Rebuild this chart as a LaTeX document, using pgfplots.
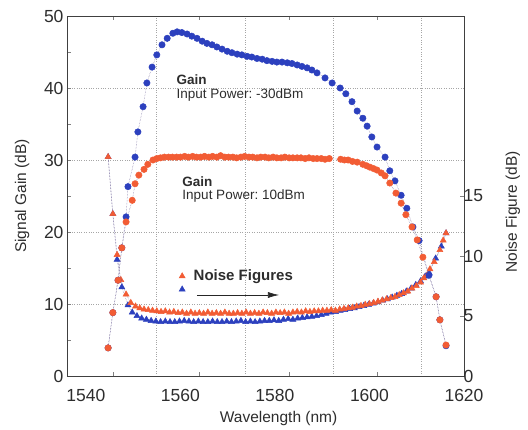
\documentclass[border=0pt]{standalone}
\usepackage{fontspec}
\setmainfont{Liberation Sans}
\usepackage{pgfplots}
\usepackage{pgfplotstable}
\pgfplotsset{compat=1.18}
\usetikzlibrary{arrows.meta}

\definecolor{gred}{RGB}{242,92,52}
\definecolor{gblue}{RGB}{44,64,190}
\definecolor{joinc}{RGB}{130,120,165}
\definecolor{txt}{RGB}{45,45,45}

\pgfplotsset{
  mlegend/.style={legend image code/.code={\draw[##1, draw=none] plot coordinates {(0.1cm,0cm)};}},
}

% gain, input -30 dBm
\pgfplotstableread{
wl g
1544.7 3.9
1545.7 8.8
1546.8 13.3
1547.6 17.8
1548.5 22.1
1548.9 26.3
1550.4 30.4
1551.0 33.9
1552.1 37.4
1552.9 40.7
1554.0 42.9
1555.0 44.6
1556.1 46.0
1557.2 46.9
1558.4 47.6
1559.3 47.8
1560.3 47.7
1561.4 47.5
1562.4 47.2
1563.5 46.9
1564.6 46.5
1565.6 46.2
1566.7 46.0
1567.7 45.7
1568.8 45.4
1569.9 45.1
1570.9 44.9
1572.0 44.7
1573.0 44.6
1574.1 44.4
1575.1 44.3
1576.2 44.1
1577.3 44.0
1578.3 43.8
1579.4 43.7
1580.4 43.6
1581.5 43.6
1582.6 43.5
1583.6 43.4
1584.7 43.2
1585.7 43.0
1586.8 42.8
1587.8 42.5
1588.9 42.1
1590.6 41.4
1592.1 40.7
1593.8 40.0
1595.0 39.2
1596.3 38.1
1597.4 36.8
1598.6 35.8
1599.5 34.7
1600.5 33.2
1601.6 31.8
1603.3 30.4
1604.3 28.5
1605.4 27.1
1606.7 25.1
1607.9 23.3
1609.2 20.7
1610.5 18.8
1612.6 14.0
1614.1 11.0
1614.9 7.8
1616.2 4.2
}\gainlow

% gain, input 10 dBm
\pgfplotstableread{
wl g
1544.7 3.9
1545.7 8.8
1546.8 13.3
1547.6 17.8
1548.5 21.4
1549.8 24.4
1550.4 26.7
1551.2 27.9
1552.3 28.7
1553.1 29.4
1554.2 30.0
1555.0 30.2
1555.8 30.3
1556.6 30.4
1557.5 30.4
1558.3 30.4
1559.2 30.4
1560.0 30.4
1560.9 30.5
1561.7 30.4
1562.6 30.5
1563.4 30.4
1564.3 30.4
1565.1 30.5
1566.0 30.4
1566.8 30.5
1567.7 30.4
1568.5 30.6
1569.4 30.4
1570.2 30.4
1571.1 30.4
1571.9 30.3
1572.8 30.4
1573.6 30.5
1574.5 30.4
1575.3 30.4
1576.2 30.3
1577.0 30.4
1577.9 30.4
1578.7 30.3
1579.6 30.4
1580.4 30.3
1581.3 30.3
1582.1 30.4
1583.0 30.3
1583.8 30.3
1584.7 30.3
1585.5 30.3
1586.4 30.2
1587.2 30.3
1588.1 30.2
1588.9 30.2
1589.8 30.2
1590.6 30.1
1591.5 30.2
1593.9 30.1
1594.7 30.0
1595.5 30.0
1596.4 29.8
1597.4 29.7
1598.6 29.4
1599.4 29.2
1600.1 29.0
1600.9 28.8
1601.6 28.6
1602.5 28.2
1603.3 27.8
1604.3 26.8
1605.6 25.4
1606.7 24.0
1607.7 22.4
1609.0 20.7
1610.1 18.9
1611.3 16.5
1614.1 11.0
1614.9 7.8
1616.2 4.3
}\gainhigh

% noise figure, input -30 dBm
\pgfplotstableread{
wl nf
1544.7 18.25
1545.7 13.5
1546.6 9.7
1547.6 7.4
1548.9 5.9
1549.8 5.3
1550.8 5.0
1551.8 4.8
1552.8 4.7
1553.8 4.6
1554.8 4.55
1555.8 4.5
1556.8 4.55
1557.8 4.5
1558.8 4.5
1559.8 4.55
1560.8 4.6
1561.8 4.55
1562.8 4.5
1563.8 4.55
1564.8 4.5
1565.8 4.5
1566.8 4.55
1567.8 4.5
1568.8 4.5
1569.8 4.55
1570.8 4.5
1571.8 4.55
1572.8 4.6
1573.8 4.5
1574.8 4.55
1575.8 4.5
1576.8 4.55
1577.8 4.6
1578.8 4.6
1579.8 4.65
1580.8 4.6
1581.8 4.7
1582.8 4.75
1583.8 4.7
1584.8 4.8
1585.8 4.85
1586.8 4.9
1587.8 4.95
1588.8 5.0
1589.8 5.1
1590.8 5.2
1591.8 5.3
1592.8 5.35
1593.8 5.45
1594.8 5.5
1595.8 5.6
1596.8 5.65
1597.8 5.75
1598.8 5.85
1599.8 5.95
1600.8 6.05
1601.8 6.15
1602.8 6.3
1603.8 6.4
1604.8 6.55
1605.8 6.7
1606.8 6.85
1607.8 7.05
1608.8 7.3
1609.8 7.6
1610.8 7.9
1611.8 8.3
1612.6 8.6
1614.0 9.8
1615.2 10.8
1616.2 11.9
}\nflow

% noise figure, input 10 dBm
\pgfplotstableread{
wl nf
1544.7 18.25
1545.7 13.5
1546.6 10.1
1547.4 8.0
1548.5 6.8
1549.5 6.1
1550.5 5.8
1551.4 5.65
1552.3 5.55
1553.2 5.5
1554.1 5.45
1555.0 5.4
1555.9 5.35
1556.8 5.4
1557.7 5.3
1558.6 5.35
1559.5 5.25
1560.4 5.3
1561.3 5.2
1562.2 5.3
1563.1 5.2
1564.0 5.25
1564.9 5.2
1565.8 5.3
1566.7 5.2
1567.6 5.25
1568.5 5.2
1569.4 5.3
1570.3 5.2
1571.2 5.2
1572.1 5.25
1573.0 5.2
1573.9 5.3
1574.8 5.2
1575.7 5.25
1576.6 5.2
1577.5 5.3
1578.4 5.25
1579.3 5.2
1580.2 5.3
1581.1 5.25
1582.0 5.3
1582.9 5.2
1583.8 5.3
1584.7 5.35
1585.6 5.3
1586.5 5.4
1587.4 5.35
1588.3 5.4
1589.2 5.4
1590.1 5.45
1591.0 5.45
1591.9 5.5
1592.8 5.45
1593.7 5.55
1594.6 5.6
1595.5 5.65
1596.4 5.7
1597.3 5.8
1598.2 5.85
1599.1 5.95
1600.0 6.0
1600.9 6.1
1601.8 6.2
1602.7 6.3
1603.6 6.4
1604.5 6.5
1605.4 6.6
1606.3 6.75
1607.2 6.9
1608.1 7.05
1609.0 7.3
1609.9 7.5
1610.8 7.8
1611.5 8.15
1612.2 8.4
1612.8 8.9
1613.7 9.5
1614.9 10.5
1615.6 11.3
1616.2 11.9
}\nfhigh

\begin{document}
\begin{tikzpicture}
\pgfplotsset{
  every axis/.append style={
    set layers,
    scale only axis, width=397pt, height=360pt,
    xmin=1536, xmax=1620,
    /pgf/number format/assume math mode=true,
    /pgf/number format/1000 sep={},
    tick label style={font=\fontsize{17.5}{19}\selectfont, text=txt},
    label style={font=\fontsize{15.5}{17}\selectfont, text=txt},
    axis line style={draw=black!75, line width=0.8pt},
    major grid style={dotted, line width=0.6pt, gray!70},
    minor tick length=4pt,
  },
  joined/.style={densely dotted, line width=0.5pt, draw=joinc},
}
% noise figure, right axis
\begin{axis}[
  ymin=0, ymax=30,
  axis x line=none,
  axis y line*=right,
  ytick={0,5,10,15},
  yticklabel style={xshift=-4pt},
  ylabel={Noise Figure (dB)},
  ylabel style={at={(axis description cs:1.123,0.456)}, anchor=center},
  legend style={at={(axis description cs:0.282,0.299)}, anchor=north west,
    draw=none, fill=none, inner sep=0pt, row sep=2pt, column sep=7pt,
    font=\bfseries\fontsize{15}{16}\selectfont, text=txt,
    nodes={inner sep=1.5pt}},
  legend cell align=left,
  reverse legend,
]
\addplot[joined, mark=triangle*, mark size=3.5pt,
  mark options={solid, draw=gblue, fill=gblue}, mlegend]
  table[x=wl, y=nf] {\nflow};
\addlegendentry{}
\addplot[joined, mark=triangle*, mark size=3.5pt,
  mark options={solid, draw=gred, fill=gred}, mlegend]
  table[x=wl, y=nf] {\nfhigh};
\addlegendentry{Noise Figures}
\end{axis}
% signal gain, left axis
\begin{axis}[
  name=ax,
  ymin=0, ymax=50,
  xtick={1540,1560,...,1620},
  every major x tick/.append style={draw=none},
  minor xtick={1545.7,1563.9,1583.0,1601.6},
  extra x ticks={1555,1573.7,1592.3,1610.9},
  extra x tick labels={},
  extra x tick style={xmajorgrids=true},
  xticklabel style={yshift=-10pt},
  ytick={0,10,...,50},
  minor y tick num=1,
  ytick pos=left,
  ymajorgrids=true,
  xlabel={Wavelength (nm)},
  ylabel={Signal Gain (dB)},
  xlabel style={at={(axis description cs:0.533,-0.117)}, anchor=center},
  ylabel style={at={(axis description cs:-0.113,0.5)}, anchor=center},
  clip=false,
]
\addplot[joined, mark=*, mark size=3.2pt,
  mark options={solid, draw=gblue, fill=gblue}]
  table[x=wl, y=g] {\gainlow};
\addplot[joined, mark=*, mark size=3.2pt,
  mark options={solid, draw=gred, fill=gred}]
  table[x=wl, y=g] {\gainhigh};
\node[anchor=base west, font=\bfseries\fontsize{13.5}{14}\selectfont, text=txt]
  at (rel axis cs:0.267,0.811) {Gain};
\node[anchor=base west, font=\fontsize{13.5}{14}\selectfont, text=txt]
  at (rel axis cs:0.267,0.772) {Input Power:\ -30dBm};
\node[anchor=base west, font=\bfseries\fontsize{13.5}{14}\selectfont, text=txt]
  at (rel axis cs:0.282,0.525) {Gain};
\node[anchor=base west, font=\fontsize{13.5}{14}\selectfont, text=txt]
  at (rel axis cs:0.282,0.489) {Input Power:\ 10dBm};
\draw[-{Latex[length=11pt,width=6pt]}, line width=0.6pt, black!85]
  (rel axis cs:0.327,0.225) -- (rel axis cs:0.534,0.225);
\end{axis}
\pgfresetboundingbox
\path[use as bounding box] (ax.south west) ++(-67pt,-54pt) rectangle ++(528pt,430pt);
\end{tikzpicture}
\end{document}
